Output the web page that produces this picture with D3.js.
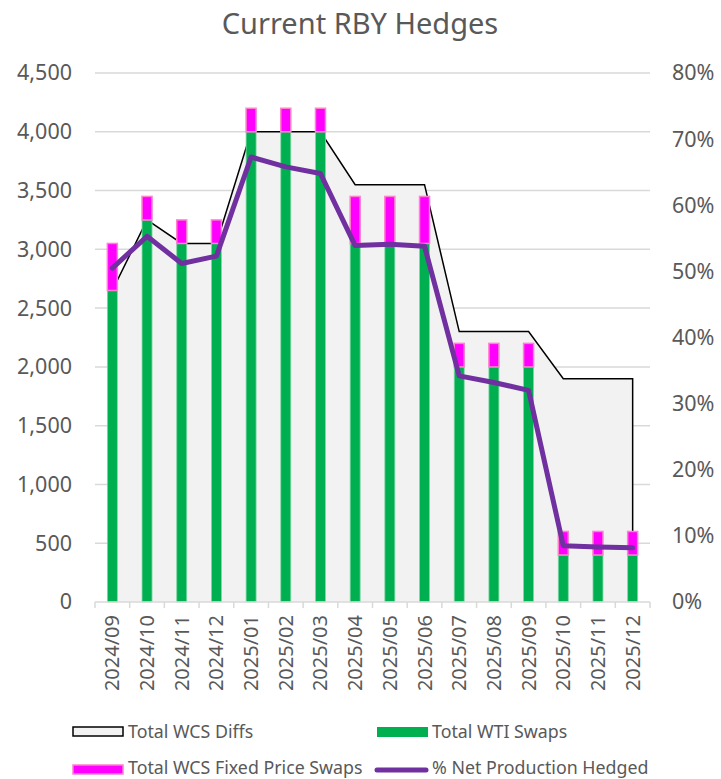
<!DOCTYPE html>
<html><head><meta charset="utf-8">
<script src="https://cdn.jsdelivr.net/npm/d3@7"></script>
<style>body{margin:0;background:#fff;} text{font-family:"Noto Sans","Open Sans",sans-serif;fill:#595959;}</style>
</head><body>
<svg id="c" width="721" height="779"></svg>
<script>
const categories = ["2024/09","2024/10","2024/11","2024/12","2025/01","2025/02","2025/03","2025/04","2025/05","2025/06","2025/07","2025/08","2025/09","2025/10","2025/11","2025/12"];
const wcsDiffs = [2650,3250,3050,3050,4000,4000,4000,3550,3550,3550,2300,2300,2300,1900,1900,1900];
const wtiSwaps = [2650,3250,3050,3050,4000,4000,4000,3050,3050,3050,2000,2000,2000,400,400,400];
const wcsFixed = [400,200,200,200,200,200,200,400,400,400,200,200,200,200,200,200];
const pctHedged = [0.505,0.553,0.512,0.523,0.673,0.658,0.648,0.539,0.541,0.538,0.342,0.332,0.320,0.085,0.083,0.082];
const leftTicks = [0,500,1000,1500,2000,2500,3000,3500,4000,4500];
const rightTicks = [0,0.1,0.2,0.3,0.4,0.5,0.6,0.7,0.8];
const title = "Current RBY Hedges";

const svg = d3.select("#c");
const L=95, R=650, T=73, B=602;
const x = d3.scaleBand().domain(categories).range([L,R]);
const y = d3.scaleLinear().domain([0,4500]).range([B,T]);
const y2 = d3.scaleLinear().domain([0,0.8]).range([B,T]);
const cx = d => x(d)+x.bandwidth()/2;
const bw = 10;
const FF = '"Noto Sans","Open Sans",sans-serif';

svg.append("text").attr("x",360).attr("y",34).attr("text-anchor","middle")
  .style("font-size","29px").text(title);

// gridlines
svg.append("g").selectAll("line").data(leftTicks.filter(d=>d>0)).join("line")
  .attr("x1",L).attr("x2",R).attr("y1",d=>y(d)).attr("y2",d=>y(d))
  .attr("stroke","#d9d9d9").attr("stroke-width",1.5);

// area
const area = d3.area().x((d,i)=>cx(categories[i])).y0(B).y1(d=>y(d));
svg.append("path").datum(wcsDiffs).attr("d",area).attr("fill","#f2f2f2").attr("stroke","none");
const outline = d3.line().x(d=>d[0]).y(d=>d[1]);
const pts = [[cx(categories[0]),B]].concat(wcsDiffs.map((d,i)=>[cx(categories[i]),y(d)])).concat([[cx(categories[categories.length-1]),B]]);
svg.append("path").attr("d",outline(pts)).attr("fill","none").attr("stroke","#000").attr("stroke-width",1.5);

// bars
svg.append("g").selectAll("rect").data(wtiSwaps).join("rect")
  .attr("x",(d,i)=>cx(categories[i])-bw/2).attr("width",bw)
  .attr("y",d=>y(d)).attr("height",d=>B-y(d))
  .attr("fill","#00b050").attr("stroke","#7fd8a7").attr("stroke-width",0.8);
svg.append("g").selectAll("rect").data(wcsFixed).join("rect")
  .attr("x",(d,i)=>cx(categories[i])-bw/2).attr("width",bw)
  .attr("y",(d,i)=>y(wtiSwaps[i]+d)).attr("height",(d,i)=>y(wtiSwaps[i])-y(wtiSwaps[i]+d))
  .attr("fill","#ff00ff").attr("stroke","#ff80cc").attr("stroke-width",1.5);

// pct line
const line = d3.line().x((d,i)=>cx(categories[i])).y(d=>y2(d));
svg.append("path").datum(pctHedged).attr("d",line).attr("fill","none")
  .attr("stroke","#7030a0").attr("stroke-width",5).attr("stroke-linejoin","round").attr("stroke-linecap","round");

// x axis
const xa = svg.append("g").attr("transform",`translate(0,${B})`)
  .call(d3.axisBottom(x).tickSize(0).tickPadding(0));
xa.select(".domain").remove();
xa.append("line").attr("x1",L).attr("x2",R).attr("y1",0).attr("y2",0).attr("stroke","#d9d9d9").attr("stroke-width",1.5);
xa.selectAll(".tk").data(d3.range(categories.length+1)).join("line")
  .attr("x1",i=>L+i*x.step()).attr("x2",i=>L+i*x.step()).attr("y1",0).attr("y2",6)
  .attr("stroke","#d9d9d9").attr("stroke-width",1.5);
xa.selectAll(".tick text").attr("transform","rotate(-90)").attr("text-anchor","end")
  .attr("x",-13).attr("y",0).attr("dy","0.35em")
  .style("font-size","20px").style("font-family",FF).attr("fill","#595959");

// left axis
const ya = svg.append("g").attr("transform",`translate(${L},0)`)
  .call(d3.axisLeft(y).tickValues(leftTicks).tickFormat(d3.format(",")).tickSize(0).tickPadding(23));
ya.select(".domain").remove();
ya.selectAll("text").style("font-size","21.5px").style("font-family",FF).attr("fill","#595959");

// right axis
const ra = svg.append("g").attr("transform",`translate(${R},0)`)
  .call(d3.axisRight(y2).tickValues(rightTicks).tickFormat(d3.format(".0%")).tickSize(0).tickPadding(22));
ra.select(".domain").remove();
ra.selectAll("text").style("font-size","21.5px").style("font-family",FF).attr("fill","#595959");

// legend
const lg = svg.append("g").style("font-size","17.8px");
lg.append("rect").attr("x",73).attr("y",727).attr("width",50).attr("height",9).attr("fill","#f2f2f2").attr("stroke","#000").attr("stroke-width",1.5);
lg.append("text").attr("x",128).attr("y",738).text("Total WCS Diffs");
lg.append("rect").attr("x",377).attr("y",727).attr("width",51).attr("height",10).attr("fill","#00b050");
lg.append("text").attr("x",432).attr("y",738).text("Total WTI Swaps");
lg.append("rect").attr("x",73).attr("y",765).attr("width",50).attr("height",9).attr("fill","#ff00ff").attr("stroke","#ff80cc").attr("stroke-width",1.5);
lg.append("text").attr("x",128).attr("y",774).text("Total WCS Fixed Price Swaps");
lg.append("line").attr("x1",377).attr("x2",426).attr("y1",770).attr("y2",770).attr("stroke","#7030a0").attr("stroke-width",5).attr("stroke-linecap","round");
lg.append("text").attr("x",432).attr("y",774).text("% Net Production Hedged");
</script>
</body></html>
